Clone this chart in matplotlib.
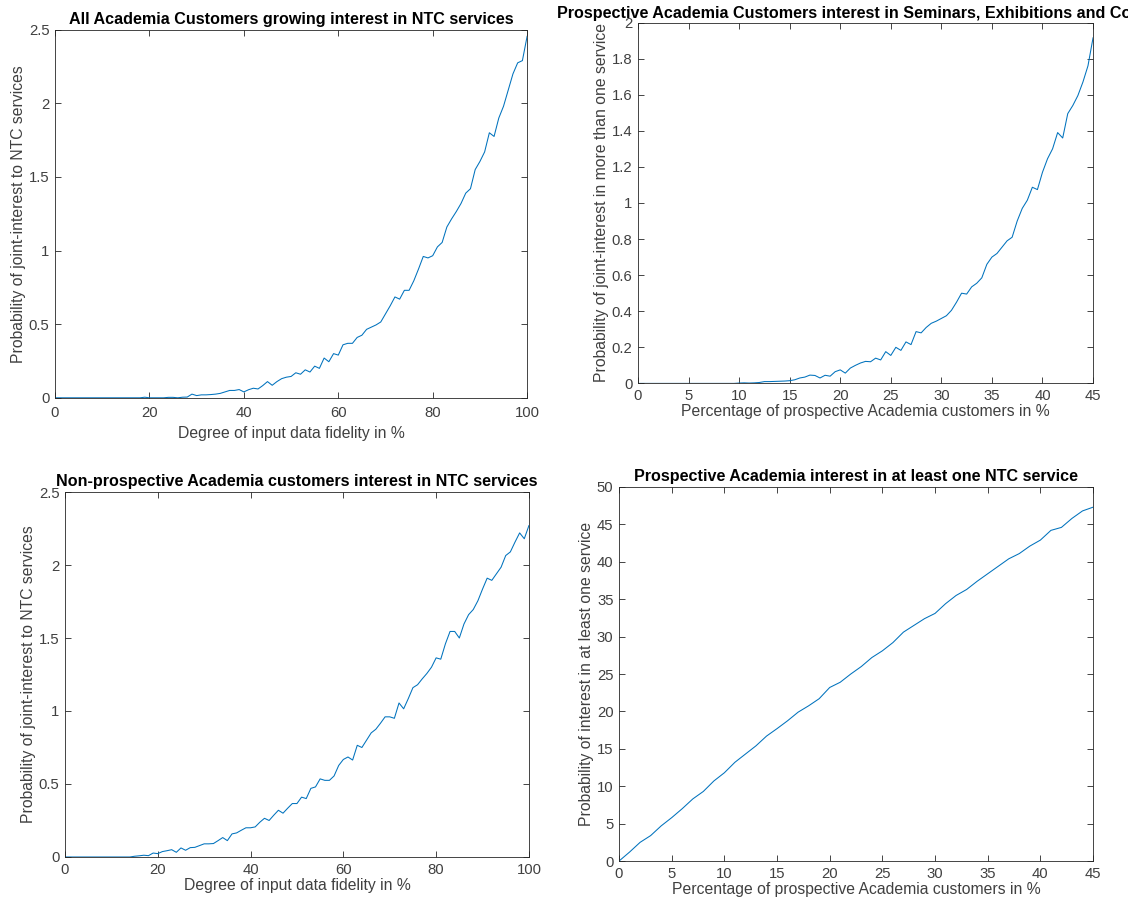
import matplotlib
matplotlib.use("Agg")
import matplotlib.pyplot as plt
from matplotlib.ticker import FuncFormatter

# =========================
# 1. Data
# =========================
fidelity = list(range(0, 101))

all_joint = [
    0, 0, 0, 0, 0, 0, 0, 0, 0, 0,
    0, 0, 0, 0, 0, 0, 0, 0, 0, 0.004,
    0, 0, 0, 0, 0.003, 0.003, 0, 0.004, 0.005, 0.025,
    0.015, 0.02, 0.02, 0.022, 0.025, 0.03, 0.04, 0.05, 0.05, 0.056,
    0.04, 0.055, 0.065, 0.06, 0.083, 0.11, 0.085, 0.11, 0.13, 0.14,
    0.145, 0.17, 0.16, 0.19, 0.175, 0.215, 0.20, 0.27, 0.245, 0.30,
    0.29, 0.36, 0.37, 0.37, 0.41, 0.425, 0.465, 0.48, 0.495, 0.515,
    0.57, 0.625, 0.685, 0.67, 0.73, 0.73, 0.795, 0.875, 0.96, 0.95,
    0.965, 1.025, 1.055, 1.16, 1.215, 1.265, 1.32, 1.39, 1.42, 1.55,
    1.605, 1.67, 1.80, 1.775, 1.90, 1.98, 2.09, 2.20, 2.275, 2.29,
    2.455,
]

nonprosp_joint = [
    0, 0, 0, 0, 0, 0, 0, 0, 0, 0,
    0, 0, 0, 0, 0, 0.005, 0.008, 0.012, 0.009, 0.027,
    0.023, 0.037, 0.043, 0.05, 0.032, 0.062, 0.046, 0.064, 0.066, 0.078,
    0.09, 0.09, 0.092, 0.112, 0.133, 0.112, 0.158, 0.165, 0.183, 0.20,
    0.20, 0.206, 0.238, 0.265, 0.25, 0.286, 0.32, 0.30, 0.334, 0.366,
    0.366, 0.41, 0.40, 0.47, 0.48, 0.535, 0.525, 0.525, 0.555, 0.627,
    0.668, 0.685, 0.664, 0.765, 0.75, 0.80, 0.85, 0.875, 0.916, 0.96,
    0.96, 0.95, 1.055, 1.015, 1.085, 1.16, 1.18, 1.22, 1.257, 1.30,
    1.364, 1.355, 1.46, 1.545, 1.545, 1.50, 1.596, 1.66, 1.695, 1.755,
    1.835, 1.91, 1.895, 1.94, 1.985, 2.065, 2.09, 2.157, 2.22, 2.18,
    2.27,
]

prosp_pct_fine = [i * 0.5 for i in range(0, 91)]

prosp_joint = [
    0, 0, 0, 0, 0, 0, 0, 0, 0, 0,
    0, 0, 0, 0, 0, 0, 0, 0, 0, 0,
    0.002, 0.003, 0.002, 0.003, 0.005, 0.01, 0.01, 0.011, 0.012, 0.013,
    0.015, 0.02, 0.03, 0.035, 0.046, 0.044, 0.03, 0.045, 0.04, 0.065,
    0.075, 0.057, 0.085, 0.10, 0.113, 0.122, 0.12, 0.14, 0.13, 0.176,
    0.155, 0.20, 0.183, 0.23, 0.215, 0.287, 0.28, 0.31, 0.333, 0.345,
    0.36, 0.375, 0.405, 0.45, 0.50, 0.495, 0.535, 0.555, 0.585, 0.66,
    0.70, 0.72, 0.755, 0.79, 0.81, 0.90, 0.97, 1.015, 1.087, 1.074,
    1.17, 1.245, 1.30, 1.39, 1.36, 1.495, 1.54, 1.595, 1.67, 1.76,
    1.915,
]

prosp_pct = list(range(0, 46))

prosp_one = [
    0, 1.2, 2.5, 3.4, 4.7, 5.8, 7.0, 8.3, 9.3, 10.7,
    11.8, 13.2, 14.3, 15.4, 16.7, 17.7, 18.75, 19.9, 20.75, 21.7,
    23.2, 23.9, 25.0, 26.0, 27.2, 28.1, 29.2, 30.6, 31.5, 32.4,
    33.1, 34.4, 35.5, 36.3, 37.4, 38.4, 39.4, 40.4, 41.1, 42.1,
    42.9, 44.2, 44.6, 45.8, 46.8, 47.3,
]

# =========================
# 2. Style
# =========================
plt.rcParams["font.family"] = ["Liberation Sans", "DejaVu Sans"]
plt.rcParams["font.size"] = 11.3

LINE_COLOR = "#0072BD"
AX_COLOR = "#262626"
LABEL_COLOR = "#404040"
TITLE_SIZE = 11.6
fmt = FuncFormatter(lambda v, pos: f"{v:g}")


def style_axes(ax, xlim, ylim, xticks, yticks):
    ax.set_xlim(*xlim)
    ax.set_ylim(*ylim)
    ax.set_xticks(xticks)
    ax.set_yticks(yticks)
    ax.xaxis.set_major_formatter(fmt)
    ax.yaxis.set_major_formatter(fmt)
    ax.tick_params(direction="in", top=True, right=True, length=4,
                   width=0.6, colors=AX_COLOR, labelcolor=LABEL_COLOR,
                   labelsize=10.7, pad=4)
    for sp in ax.spines.values():
        sp.set_color(AX_COLOR)
        sp.set_linewidth(0.6)


fig = plt.figure(figsize=(11.28, 9), dpi=100)

# =========================
# 3. Panels
# =========================
ax1 = fig.add_axes([0.0488, 0.558, 0.4185, 0.409])
ax1.plot(fidelity, all_joint, color=LINE_COLOR, lw=0.75)
style_axes(ax1, (0, 100), (0, 2.5), range(0, 101, 20),
           [0, 0.5, 1, 1.5, 2, 2.5])
ax1.tick_params(axis="x", pad=6)
ax1.set_title("All Academia Customers growing interest in NTC services",
              fontweight="bold", fontsize=TITLE_SIZE, pad=4)
ax1.set_xlabel("Degree of input data fidelity in %", color=LABEL_COLOR, labelpad=4)
ax1.set_ylabel("Probability of joint-interest to NTC services", color=LABEL_COLOR, labelpad=2)

ax2 = fig.add_axes([0.5656, 0.574, 0.4034, 0.401])
ax2.plot(prosp_pct_fine, prosp_joint, color=LINE_COLOR, lw=0.75)
style_axes(ax2, (0, 45), (0, 2), range(0, 46, 5),
           [0, 0.2, 0.4, 0.6, 0.8, 1, 1.2, 1.4, 1.6, 1.8, 2])
ax2.set_title("Prospective Academia Customers interest in Seminars, Exhibitions and Courses",
              fontweight="bold", fontsize=TITLE_SIZE, pad=3)
ax2.set_xlabel("Percentage of prospective Academia customers in %", color=LABEL_COLOR, labelpad=1)
ax2.set_ylabel("Probability of joint-interest in more than one service", color=LABEL_COLOR, labelpad=2)

ax3 = fig.add_axes([0.0576, 0.0478, 0.4113, 0.4055])
ax3.plot(fidelity, nonprosp_joint, color=LINE_COLOR, lw=0.75)
style_axes(ax3, (0, 100), (0, 2.5), range(0, 101, 20),
           [0, 0.5, 1, 1.5, 2, 2.5])
ax3.set_title("Non-prospective Academia customers interest in NTC services",
              fontweight="bold", fontsize=TITLE_SIZE, pad=4)
ax3.set_xlabel("Degree of input data fidelity in %", color=LABEL_COLOR, labelpad=1)
ax3.set_ylabel("Probability of joint-interest to NTC services", color=LABEL_COLOR, labelpad=2)

ax4 = fig.add_axes([0.5488, 0.0433, 0.4202, 0.4156])
ax4.plot(prosp_pct, prosp_one, color=LINE_COLOR, lw=0.75)
style_axes(ax4, (0, 45), (0, 50), range(0, 46, 5), range(0, 51, 5))
ax4.set_title("Prospective Academia interest in at least one NTC service",
              fontweight="bold", fontsize=TITLE_SIZE, pad=4)
ax4.set_xlabel("Percentage of prospective Academia customers in %", color=LABEL_COLOR, labelpad=1)
ax4.set_ylabel("Probability of interest in at least one service", color=LABEL_COLOR, labelpad=2)

fig.savefig("out.png", dpi=100)
